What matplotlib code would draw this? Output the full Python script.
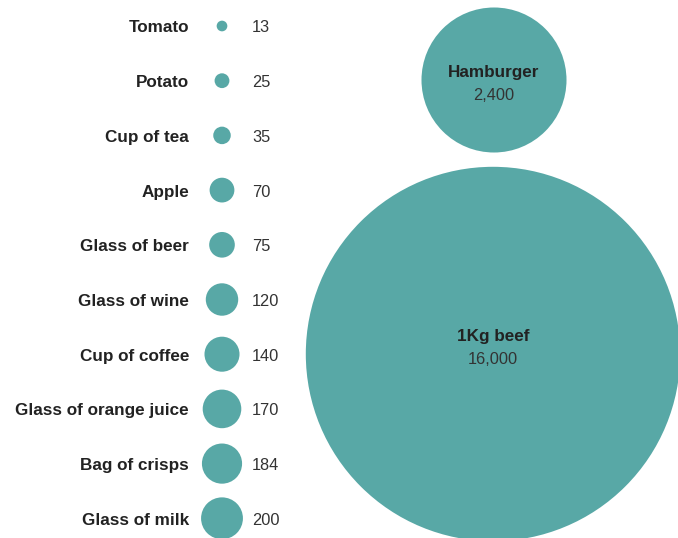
import matplotlib
matplotlib.use("Agg")
import matplotlib.pyplot as plt
from matplotlib.patches import Circle
import numpy as np

# Data
small_items = ["Tomato", "Potato", "Cup of tea", "Apple", "Glass of beer",
               "Glass of wine", "Cup of coffee", "Glass of orange juice",
               "Bag of crisps", "Glass of milk"]
small_values = [13, 25, 35, 70, 75, 120, 140, 170, 184, 200]
big_items = ["Hamburger", "1Kg beef"]
big_values = [2400, 16000]

TEAL = "#58a8a6"
W, H = 678, 538
fig = plt.figure(figsize=(W / 100, H / 100), dpi=100)
ax = fig.add_axes([0, 0, 1, 1])
ax.set_xlim(0, W)
ax.set_ylim(H, 0)
ax.axis("off")

# area-proportional scale (pixels per sqrt(unit))
k = 187.2 / np.sqrt(16000)
font = "Liberation Sans"
tshift = 2

# small column
cx = 222
y0, dy = 26, 54.7
for i, (name, v) in enumerate(zip(small_items, small_values)):
    cy = y0 + i * dy
    ax.add_patch(Circle((cx, cy), k * np.sqrt(v), color=TEAL, lw=0))
    ax.text(189, cy + tshift, name, ha="right", va="center", fontsize=12.3,
            fontweight="bold", color="#222222", family=font)
    ax.text(252, cy + tshift, f"{v:,}", ha="left", va="center", fontsize=11.8,
            color="#333333", family=font)

# big circles
centers = [(494, 80), (493, 354)]
label_offsets = [(-9, 13), (-19, 4)]
for (name, v), (bx, by), (lo, vo) in zip(zip(big_items, big_values), centers, label_offsets):
    ax.add_patch(Circle((bx, by), k * np.sqrt(v), color=TEAL, lw=0))
    ax.text(bx, by + lo + tshift, name, ha="center", va="center", fontsize=12.3,
            fontweight="bold", color="#222222", family=font)
    ax.text(bx, by + vo + tshift, f"{v:,}", ha="center", va="center", fontsize=11.8,
            color="#333333", family=font)

fig.savefig("out.png", dpi=100)
